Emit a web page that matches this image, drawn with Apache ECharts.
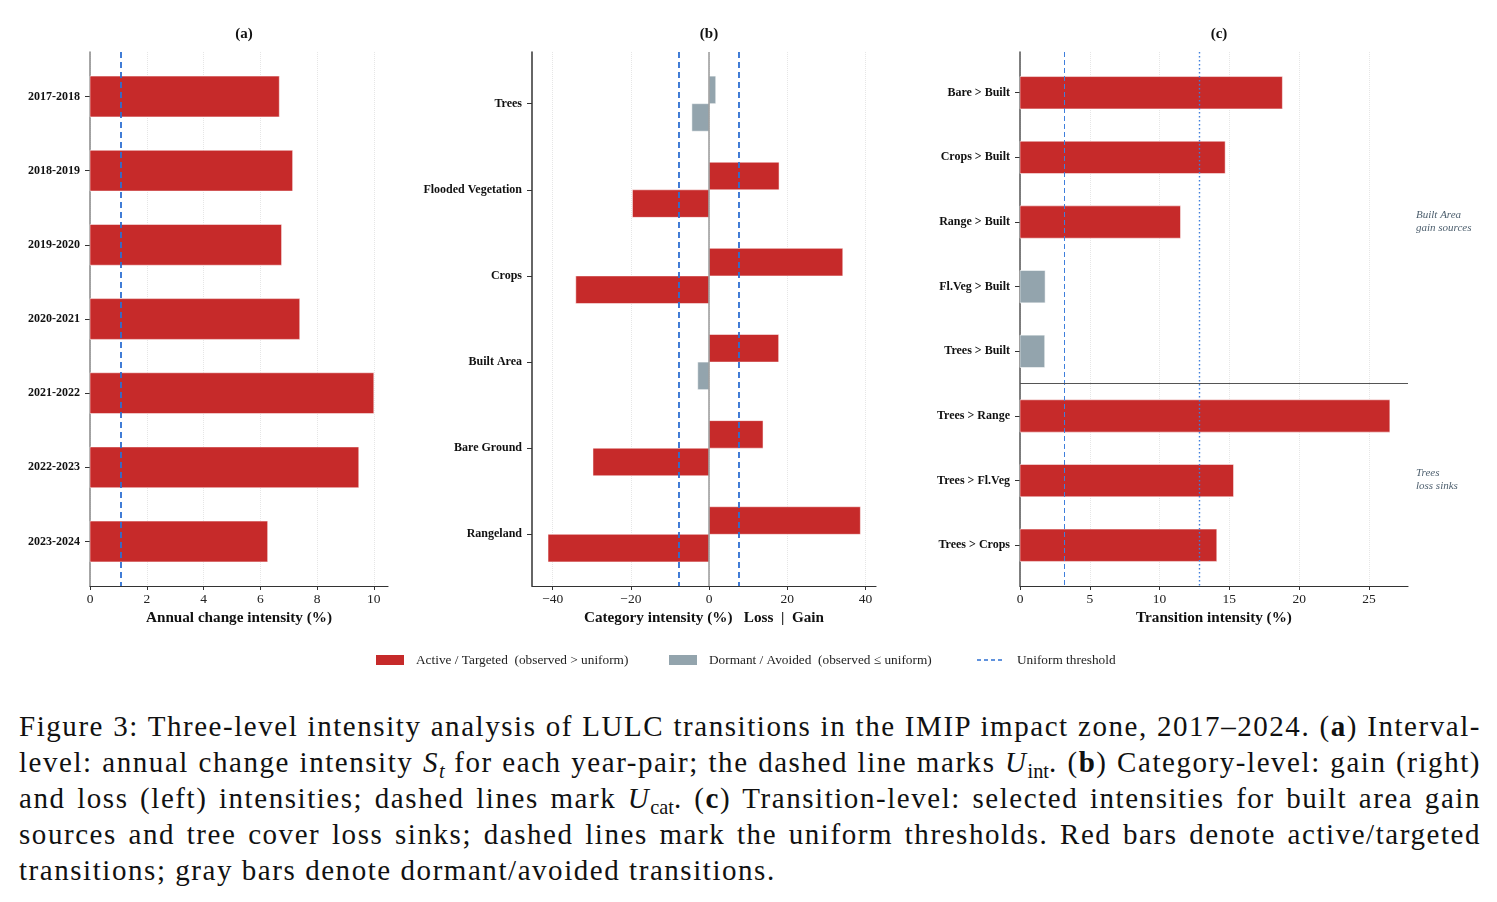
<!DOCTYPE html>
<html>
<head>
<meta charset="utf-8">
<script src="https://cdn.jsdelivr.net/npm/echarts@6/dist/echarts.min.js"></script>
<style>
  html, body { margin: 0; padding: 0; background: #fff; }
  #main { width: 1497px; height: 690px; }
  .caption {
    position: absolute; left: 19px; top: 708px; width: 1462px;
    font-family: 'Liberation Serif', serif; font-size: 29px; line-height: 36px; color: #111;
    letter-spacing: 1.55px;
  }
  .caption div { text-align: justify; text-align-last: justify; height: 36px; }
  .caption div.last { text-align-last: left; }
  .caption sub { font-size: 70%; line-height: 0; vertical-align: baseline; position: relative; top: 0.3em; letter-spacing: 0; }
</style>
</head>
<body>
<div id="main"></div>
<div class="caption">
  <div>Figure 3: Three-level intensity analysis of LULC transitions in the IMIP impact zone, 2017–2024. (<b>a</b>) Interval-</div>
  <div>level: annual change intensity <i>S<sub>t</sub></i> for each year-pair; the dashed line marks <i>U</i><sub>int</sub>. (<b>b</b>) Category-level: gain (right)</div>
  <div>and loss (left) intensities; dashed lines mark <i>U</i><sub>cat</sub>. (<b>c</b>) Transition-level: selected intensities for built area gain</div>
  <div>sources and tree cover loss sinks; dashed lines mark the uniform thresholds. Red bars denote active/targeted</div>
  <div class="last">transitions; gray bars denote dormant/avoided transitions.</div>
</div>
<script>
// (a) interval level
var yearPairs = ['2017-2018', '2018-2019', '2019-2020', '2020-2021', '2021-2022', '2022-2023', '2023-2024']
var annualIntensity = [6.67, 7.14, 6.75, 7.39, 10.0, 9.47, 6.26]
var uniformInterval = 1.08
var intervalTicks = [0, 2, 4, 6, 8, 10]

// (b) category level
var categories = ['Trees', 'Flooded Vegetation', 'Crops', 'Built Area', 'Bare Ground', 'Rangeland']
var gainIntensity = [1.7, 17.9, 34.2, 17.8, 13.8, 38.7]
var lossIntensity = [4.4, 19.6, 34.1, 2.9, 29.7, 41.2]
var uniformCategory = 7.7
var categoryTicks = [-40, -20, 0, 20, 40]

// (c) transition level
var builtSources = ['Bare > Built', 'Crops > Built', 'Range > Built', 'Fl.Veg > Built', 'Trees > Built']
var builtGainIntensity = [18.8, 14.7, 11.5, 1.8, 1.77]
var treeSinks = ['Trees > Range', 'Trees > Fl.Veg', 'Trees > Crops']
var treeLossIntensity = [26.5, 15.3, 14.1]
var uniformBuiltGain = 3.2
var uniformTreeLoss = 12.85
var transitionTicks = [0, 5, 10, 15, 20, 25]

var SERIF = 'Liberation Serif'
var RED = '#c62a2a'
var GRAY = '#93a4ad'
var BLUE = '#2d6fd2'

var transitions = builtSources.concat(treeSinks)

// [value, row, side(-1 above / 0 centred / 1 below), active]
var aData = annualIntensity.map(function (v, i) { return [v, i, 0, v > uniformInterval ? 1 : 0] })
var bData = []
gainIntensity.forEach(function (v, i) { bData.push([v, i, -1, v > uniformCategory ? 1 : 0]) })
lossIntensity.forEach(function (v, i) { bData.push([-v, i, 1, v > uniformCategory ? 1 : 0]) })
var cData = builtGainIntensity.map(function (v, i) { return [v, i, 0, v > uniformBuiltGain ? 1 : 0] })
treeLossIntensity.forEach(function (v, i) {
  cData.push([v, builtSources.length + i, 0, v > uniformTreeLoss ? 1 : 0])
})

function barRenderer(thickness) {
  return function (params, api) {
    var v = api.value(0)
    var yc = api.value(1) + api.value(2) * thickness / 2
    var p0 = api.coord([0, yc - thickness / 2])
    var p1 = api.coord([v, yc + thickness / 2])
    return {
      type: 'rect',
      shape: {
        x: Math.min(p0[0], p1[0]),
        y: Math.min(p0[1], p1[1]),
        width: Math.abs(p1[0] - p0[0]),
        height: Math.abs(p1[1] - p0[1])
      },
      style: { fill: api.value(3) ? RED : GRAY, stroke: 'rgba(255,255,255,0.5)', lineWidth: 1 }
    }
  }
}

function fmtTick(v) {
  return v < 0 ? '\u2212' + (-v) : String(v)
}

function xAxisOf(gridIndex, min, max, ticks, name) {
  return {
    type: 'value',
    gridIndex: gridIndex,
    min: min,
    max: max,
    name: name,
    nameLocation: 'middle',
    nameGap: 25,
    nameTextStyle: { fontFamily: SERIF, fontWeight: 'bold', fontSize: 15.2, color: '#111' },
    axisLine: { show: true, onZero: false, lineStyle: { color: '#333', width: 1.2 } },
    axisTick: { show: true, customValues: ticks, length: 4, lineStyle: { color: '#333' } },
    axisLabel: { customValues: ticks, margin: 6, fontFamily: SERIF, fontSize: 13.5, color: '#222', formatter: fmtTick },
    splitLine: { show: true, lineStyle: { color: '#e6e6e6', type: 'dotted', width: 1 } }
  }
}

function yAxisOf(gridIndex, names, pad, lineColor) {
  var rows = names.map(function (n, i) { return i })
  return {
    type: 'value',
    gridIndex: gridIndex,
    inverse: true,
    min: -pad,
    max: names.length - 1 + pad,
    axisLine: { show: true, onZero: false, lineStyle: { color: lineColor, width: 1.5 } },
    axisTick: { show: true, customValues: rows, length: 5, lineStyle: { color: '#333' } },
    axisLabel: {
      customValues: rows, margin: 10, fontFamily: SERIF, fontWeight: 'bold', fontSize: 12, color: '#111',
      formatter: function (v) { return names[Math.round(v)] }
    },
    splitLine: { show: false }
  }
}

var titleStyle = { fontFamily: SERIF, fontWeight: 'bold', fontSize: 15, color: '#111' }

var chart = echarts.init(document.getElementById('main'))
chart.setOption({
  animation: false,
  textStyle: { fontFamily: SERIF },
  title: [
    { text: '(a)', left: 239, top: 22, textAlign: 'center', textStyle: titleStyle },
    { text: '(b)', left: 704, top: 22, textAlign: 'center', textStyle: titleStyle },
    { text: '(c)', left: 1214, top: 22, textAlign: 'center', textStyle: titleStyle }
  ],
  grid: [
    { left: 90, top: 52, width: 298, height: 534 },
    { left: 532, top: 52, width: 344, height: 534 },
    { left: 1020, top: 52, width: 388, height: 534 }
  ],
  xAxis: [
    xAxisOf(0, 0, 10.5, intervalTicks, 'Annual change intensity (%)'),
    xAxisOf(1, -45.3, 42.7, categoryTicks, 'Category intensity (%)   Loss  |  Gain'),
    xAxisOf(2, 0, 27.8, transitionTicks, 'Transition intensity (%)')
  ],
  yAxis: [
    yAxisOf(0, yearPairs, 0.6, '#888'),
    yAxisOf(1, categories, 0.6, '#333'),
    yAxisOf(2, transitions, 0.63, '#555')
  ],
  series: [
    {
      type: 'custom',
      xAxisIndex: 0,
      yAxisIndex: 0,
      renderItem: barRenderer(0.55),
      encode: { x: 0, y: 1 },
      data: aData,
      markLine: {
        silent: true, symbol: 'none', label: { show: false },
        lineStyle: { color: BLUE, type: [6, 4], width: 1.8 },
        data: [{ xAxis: uniformInterval }]
      }
    },
    {
      type: 'custom',
      xAxisIndex: 1,
      yAxisIndex: 1,
      renderItem: barRenderer(0.32),
      encode: { x: 0, y: 1 },
      data: bData,
      markLine: {
        silent: true, symbol: 'none', label: { show: false },
        lineStyle: { color: BLUE, type: [6, 4], width: 1.8 },
        data: [
          { xAxis: 0, lineStyle: { color: '#9a9a9a', type: 'solid', width: 1.5 } },
          { xAxis: -uniformCategory },
          { xAxis: uniformCategory }
        ]
      }
    },
    {
      type: 'custom',
      xAxisIndex: 2,
      yAxisIndex: 2,
      renderItem: barRenderer(0.5),
      encode: { x: 0, y: 1 },
      data: cData,
      markLine: {
        silent: true, symbol: 'none', label: { show: false },
        data: [
          { xAxis: uniformBuiltGain, lineStyle: { color: '#3f7fdc', type: [5, 3], width: 1 } },
          { xAxis: uniformTreeLoss, lineStyle: { color: '#3f7fdc', type: [1.5, 2.5], width: 1.4 } },
          { yAxis: builtSources.length - 0.5, lineStyle: { color: '#555', type: 'solid', width: 1 } }
        ]
      }
    }
  ],
  graphic: [
    { type: 'text', x: 1416, y: 221.5, style: { text: 'Built Area\ngain sources', fontFamily: SERIF, fontStyle: 'italic', fontSize: 11, lineHeight: 12.5, fill: '#4d5f6e', verticalAlign: 'middle' } },
    { type: 'text', x: 1416, y: 479.5, style: { text: 'Trees\nloss sinks', fontFamily: SERIF, fontStyle: 'italic', fontSize: 11, lineHeight: 12.5, fill: '#4d5f6e', verticalAlign: 'middle' } },
    { type: 'rect', shape: { x: 376, y: 655, width: 28, height: 10 }, style: { fill: RED } },
    { type: 'text', x: 416, y: 660.5, style: { text: 'Active / Targeted  (observed > uniform)', fontFamily: SERIF, fontSize: 13.3, fill: '#222', verticalAlign: 'middle' } },
    { type: 'rect', shape: { x: 669, y: 655, width: 28, height: 10 }, style: { fill: GRAY } },
    { type: 'text', x: 709, y: 660.5, style: { text: 'Dormant / Avoided  (observed \u2264 uniform)', fontFamily: SERIF, fontSize: 13.3, fill: '#222', verticalAlign: 'middle' } },
    { type: 'line', shape: { x1: 977, y1: 660, x2: 1004, y2: 660 }, style: { stroke: BLUE, lineWidth: 1.5, lineDash: [4, 3] } },
    { type: 'text', x: 1017, y: 660.5, style: { text: 'Uniform threshold', fontFamily: SERIF, fontSize: 13.3, fill: '#222', verticalAlign: 'middle' } }
  ]
})
</script>
</body>
</html>
